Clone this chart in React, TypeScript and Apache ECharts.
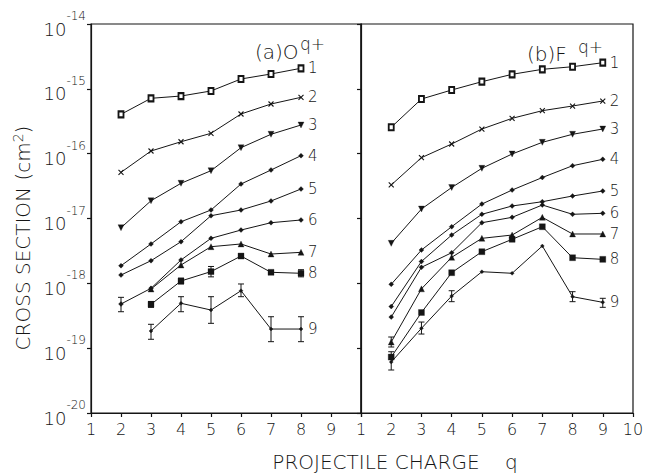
import { useEffect, useRef } from 'react';
import * as echarts from 'echarts';

// Projectile charge q values
const qO = [2, 3, 4, 5, 6, 7, 8];
const qF = [2, 3, 4, 5, 6, 7, 8, 9];

// Cross sections as log10(sigma / cm^2)
// (a) O^q+ ; curves 1..9
const O1 = [-15.393, -15.146, -15.111, -15.033, -14.848, -14.771, -14.683];
const O2 = [-16.288, -15.959, -15.816, -15.686, -15.388, -15.234, -15.131];
const O3 = [-17.142, -16.726, -16.457, -16.263, -15.908, -15.701, -15.558];
const O4 = [-17.728, -17.393, -17.05, -16.869, -16.468, -16.252, -16.031];
const O5 = [-17.872, -17.651, -17.358, -16.957, -16.869, -16.73, -16.545];
const O6 = [-18.319, -18.077, -17.64, -17.306, -17.178, -17.065, -17.023];
const O7 = [null, -18.088, -17.717, -17.435, -17.393, -17.548, -17.522];
const O8 = [null, -18.324, -17.964, -17.819, -17.579, -17.83, -17.845];
const O9 = [null, -18.735, -18.308, -18.412, -18.114, -18.705, -18.705];

// (b) F^q+ ; curves 1..9
const F1 = [-15.593, -15.157, -15.018, -14.89, -14.776, -14.699, -14.659, -14.597];
const F2 = [-16.483, -16.062, -15.851, -15.62, -15.455, -15.337, -15.265, -15.188];
const F3 = [-17.383, -16.854, -16.522, -16.226, -16.005, -15.825, -15.701, -15.62];
const F4 = [-18.015, -17.486, -17.127, -16.777, -16.561, -16.368, -16.186, -16.087];
const F5 = [-18.358, -17.663, -17.255, -16.935, -16.807, -16.741, -16.653, -16.576];
const F6 = [-18.52, -17.753, -17.528, -17.065, -16.982, -16.792, -16.935, -16.92];
const F7 = [-18.905, -18.085, -17.599, -17.306, -17.255, -16.982, -17.239, -17.239];
const F8 = [-19.137, -18.45, -17.836, -17.512, -17.321, -17.127, -17.605, -17.63];
const F9 = [-19.214, -18.694, -18.196, -17.821, -17.845, -17.424, -18.206, -18.293];

// Error bars: [q, low, high] in log10
const errO = [
  [2, -18.438, -18.216],
  [3, -18.37, -18.28],
  [4, -18.01, -17.92],
  [5, -17.9, -17.74],
  [8, -17.9, -17.79],
  [3, -18.863, -18.632],
  [4, -18.438, -18.206],
  [5, -18.617, -18.206],
  [6, -18.206, -18.01],
  [7, -18.9, -18.515],
  [8, -18.9, -18.515],
];
const errF = [
  [2, -18.982, -18.828],
  [2, -19.337, -19.055],
  [3, -18.782, -18.597],
  [4, -18.283, -18.114],
  [8, -18.283, -18.129],
  [9, -18.37, -18.231],
];

const curveLabels = ['1', '2', '3', '4', '5', '6', '7', '8', '9'];

const FONT = 'DejaVu Sans';
const FW = 200;
const INK = '#151515';

const CROSS = 'path://M0,0L10,10M10,0L0,10';
const DOWN = 'path://M0,0L10,0L5,10Z';
const symbols = ['emptyRect', CROSS, DOWN, 'diamond', 'diamond', 'diamond', 'triangle', 'rect', 'diamond'];
const symSizes: any[] = [[5, 6], 5, 6, 5, 5, 5, 6, 6, 4];

function lineSeries(qs: number[], sets: (number | null)[][], axis: number) {
  return sets.map((vals, i) => ({
    type: 'line',
    xAxisIndex: axis,
    yAxisIndex: axis,
    data: qs
      .map((q, j) => (vals[j] == null ? null : [q, Math.pow(10, vals[j] as number)]))
      .filter((d) => d !== null),
    symbol: symbols[i],
    symbolSize: symSizes[i],
    showSymbol: true,
    showAllSymbol: true,
    lineStyle: { color: INK, width: 1 },
    itemStyle: { color: INK, borderColor: INK, borderWidth: i === 1 ? 1.1 : i === 0 ? 0.9 : 0.3 },
    endLabel: {
      show: true,
      formatter: curveLabels[i],
      distance: 7,
      color: INK,
      fontSize: 15,
      fontFamily: FONT,
      fontWeight: FW,
    },
    emphasis: { disabled: true },
    silent: true,
    z: 3,
  }));
}

function errSeries(bars: number[][], axis: number) {
  return {
    type: 'custom',
    xAxisIndex: axis,
    yAxisIndex: axis,
    silent: true,
    data: bars.map((b) => [b[0], Math.pow(10, b[1]), Math.pow(10, b[2])]),
    encode: { x: 0, y: [1, 2] },
    renderItem: (_params: any, api: any) => {
      const top = api.coord([api.value(0), api.value(2)]);
      const bot = api.coord([api.value(0), api.value(1)]);
      const w = 3;
      const st = { stroke: INK, lineWidth: 1 };
      return {
        type: 'group',
        children: [
          { type: 'line', shape: { x1: top[0], y1: top[1], x2: bot[0], y2: bot[1] }, style: st },
          { type: 'line', shape: { x1: top[0] - w, y1: top[1], x2: top[0] + w, y2: top[1] }, style: st },
          { type: 'line', shape: { x1: bot[0] - w, y1: bot[1], x2: bot[0] + w, y2: bot[1] }, style: st },
        ],
      };
    },
    z: 2,
  };
}

export default function App() {
  const ref = useRef<HTMLDivElement>(null);
  useEffect(() => {
    if (!ref.current) return;
    const chart = echarts.init(ref.current, null, { renderer: 'svg' });
    const axisLineStyle = { color: INK, width: 1.2 };
    const option: any = {
      animation: false,
      backgroundColor: '#fff',
      textStyle: { fontFamily: FONT, color: INK, fontWeight: FW },
      grid: [
        { left: 91, top: 24, width: 270, height: 389, show: true, borderColor: INK, borderWidth: 1.2 },
        { left: 361, top: 24, width: 272, height: 389, show: true, borderColor: INK, borderWidth: 1.2 },
      ],
      xAxis: [0, 1].map((i) => ({
        type: 'value',
        gridIndex: i,
        min: 1,
        max: 10,
        interval: 1,
        axisLine: { show: true, lineStyle: axisLineStyle },
        axisTick: { show: true, inside: false, length: 4, lineStyle: axisLineStyle },
        splitLine: { show: false },
        axisLabel: {
          margin: 8,
          fontSize: 16,
          fontFamily: FONT,
          fontWeight: FW,
          color: INK,
          formatter: (v: number) => (i === 0 && v === 10 ? '' : String(v)),
        },
      })),
      yAxis: [0, 1].map((i) => ({
        type: 'log',
        logBase: 10,
        gridIndex: i,
        min: 1e-20,
        max: 1e-14,
        axisLine: { show: true, lineStyle: axisLineStyle },
        axisTick: { show: true, inside: false, length: 4, lineStyle: axisLineStyle },
        splitLine: { show: false },
        minorTick: { show: false },
        axisLabel:
          i === 0
            ? {
                margin: 5,
                formatter: (v: number) => `{b|10}{s|-${-Math.round(Math.log10(v))}}`,
                rich: {
                  b: { fontSize: 18, fontFamily: FONT, fontWeight: FW, color: INK, padding: [10, 0, 0, 0], verticalAlign: 'bottom' },
                  s: { fontSize: 12, fontFamily: FONT, fontWeight: FW, color: INK, padding: [0, 0, 13, 0], verticalAlign: 'top' },
                },
              }
            : { show: false },
      })),
      graphic: [
        { type: 'text', x: 255, y: 42, style: { text: '(a)O', fontSize: 20, fontFamily: FONT, fontWeight: FW, fill: INK } },
        { type: 'text', x: 300, y: 35, style: { text: 'q+', fontSize: 17, fontFamily: FONT, fontWeight: FW, fill: INK } },
        { type: 'text', x: 527, y: 44, style: { text: '(b)F', fontSize: 20, fontFamily: FONT, fontWeight: FW, fill: INK } },
        { type: 'text', x: 578, y: 38, style: { text: 'q+', fontSize: 17, fontFamily: FONT, fontWeight: FW, fill: INK } },
        {
          type: 'text',
          x: 23,
          y: 238,
          rotation: Math.PI / 2,
          style: {
            text: '{t|CROSS SECTION (cm}{s|2}{t|)}',
            align: 'center',
            verticalAlign: 'middle',
            fill: INK,
            rich: {
              t: { fontSize: 20, fontFamily: FONT, fontWeight: FW, fill: INK },
              s: { fontSize: 14, fontFamily: FONT, fontWeight: FW, fill: INK, padding: [0, 0, 10, 0] },
            },
          },
        },
        {
          type: 'text',
          x: 395,
          y: 462,
          style: {
            text: 'PROJECTILE CHARGE    q',
            fontSize: 20,
            fontFamily: FONT,
            fontWeight: FW,
            fill: INK,
            align: 'center',
            verticalAlign: 'middle',
          },
        },
      ],
      series: [
        ...lineSeries(qO, [O1, O2, O3, O4, O5, O6, O7, O8, O9], 0),
        ...lineSeries(qF, [F1, F2, F3, F4, F5, F6, F7, F8, F9], 1),
        errSeries(errO, 0),
        errSeries(errF, 1),
      ],
    };
    chart.setOption(option);
    return () => chart.dispose();
  }, []);
  return (
    <div
      ref={ref}
      style={{ position: 'fixed', left: 0, top: 0, width: 650, height: 475, background: '#fff' }}
    />
  );
}
